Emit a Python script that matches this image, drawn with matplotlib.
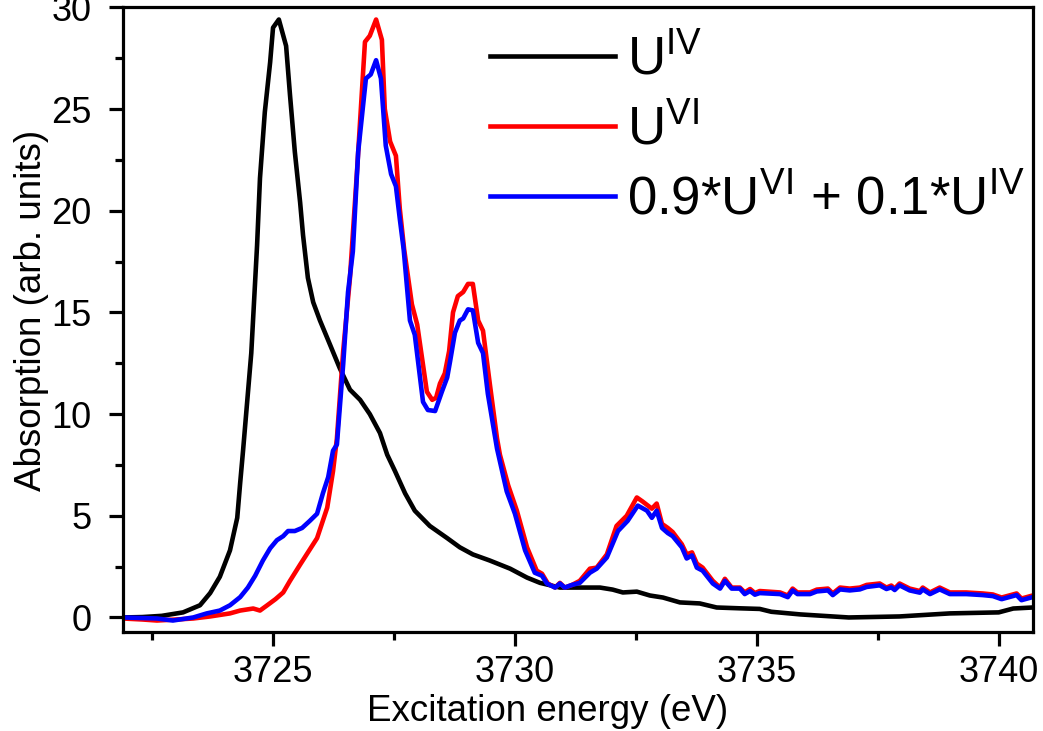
import matplotlib
matplotlib.use("Agg")
import matplotlib.pyplot as plt
from matplotlib.ticker import MultipleLocator

plt.rcParams['font.family'] = ['Liberation Sans', 'DejaVu Sans']
plt.rcParams['mathtext.fontset'] = 'custom'
plt.rcParams['mathtext.rm'] = 'Liberation Sans'
plt.rcParams['mathtext.it'] = 'Liberation Sans'
plt.rcParams['mathtext.default'] = 'rm'

# ---------------- data ----------------
energy_iv = [3721.9, 3722.3, 3722.7, 3723.14, 3723.49, 3723.70, 3723.90, 3724.11, 3724.26, 3724.32,
             3724.38, 3724.55, 3724.67, 3724.73, 3724.83, 3724.94, 3725.00, 3725.12, 3725.27, 3725.35,
             3725.45, 3725.56, 3725.62, 3725.72, 3725.83, 3725.97, 3726.18, 3726.38, 3726.59, 3726.80,
             3727.00, 3727.21, 3727.36, 3727.52, 3727.73, 3727.93, 3728.24, 3728.60, 3728.86, 3729.13,
             3729.48, 3729.90, 3730.25, 3730.52, 3730.93, 3731.34, 3731.76, 3732.02, 3732.23, 3732.52,
             3732.79, 3733.06, 3733.41, 3733.82, 3734.17, 3734.65, 3735.06, 3735.30, 3735.90, 3736.90,
             3737.95, 3738.99, 3740.00, 3740.30, 3740.70]
absorb_iv = [0.0, 0.02, 0.08, 0.25, 0.6, 1.2, 2.0, 3.3, 4.9, 6.6,
             8.2, 13.0, 18.3, 21.6, 24.85, 27.3, 29.0, 29.4, 28.1, 25.7,
             22.9, 20.4, 18.8, 16.7, 15.5, 14.6, 13.4, 12.25, 11.2, 10.7,
             10.0, 9.07, 8.0, 7.2, 6.1, 5.25, 4.5, 3.9, 3.45, 3.1,
             2.8, 2.4, 1.96, 1.7, 1.47, 1.47, 1.47, 1.37, 1.23, 1.27,
             1.08, 0.98, 0.74, 0.69, 0.49, 0.45, 0.42, 0.28, 0.15, 0.0,
             0.05, 0.2, 0.25, 0.44, 0.49]

energy_vi = [3721.9, 3722.3, 3722.6, 3723.0, 3723.35, 3723.7, 3724.11, 3724.32, 3724.59, 3724.73,
             3724.88, 3725.05, 3725.21, 3725.35, 3725.56, 3725.91, 3726.12, 3726.24, 3726.32, 3726.45,
             3726.59, 3726.74, 3726.90, 3727.00, 3727.13, 3727.25, 3727.31, 3727.42, 3727.54, 3727.62,
             3727.71, 3727.87, 3727.98, 3728.18, 3728.29, 3728.37, 3728.45, 3728.55, 3728.64, 3728.72,
             3728.82, 3728.93, 3729.03, 3729.13, 3729.24, 3729.34, 3729.48, 3729.63, 3729.69, 3729.86,
             3730.04, 3730.25, 3730.45, 3730.56, 3730.68, 3730.83, 3730.93, 3731.03, 3731.18, 3731.34,
             3731.55, 3731.69, 3731.90, 3732.10, 3732.31, 3732.52, 3732.64, 3732.83, 3732.93, 3733.04,
             3733.16, 3733.26, 3733.45, 3733.55, 3733.66, 3733.76, 3733.88, 3734.09, 3734.24, 3734.34,
             3734.48, 3734.65, 3734.75, 3734.86, 3734.96, 3735.06, 3735.48, 3735.64, 3735.74, 3735.84,
             3736.10, 3736.24, 3736.47, 3736.57, 3736.72, 3736.92, 3737.13, 3737.27, 3737.54, 3737.68,
             3737.78, 3737.85, 3737.95, 3738.16, 3738.37, 3738.43, 3738.58, 3738.78, 3738.99, 3739.33,
             3739.67, 3739.88, 3740.06, 3740.37, 3740.47, 3740.70]
absorb_vi = [-0.05, -0.1, -0.15, -0.1, -0.05, 0.05, 0.2, 0.34, 0.44, 0.34,
             0.6, 0.9, 1.23, 1.8, 2.6, 3.9, 5.4, 7.2, 8.8, 13.1,
             16.7, 22.1, 28.3, 28.6, 29.4, 28.4, 25.0, 23.4, 22.7, 20.1,
             18.1, 15.4, 14.4, 11.1, 10.7, 10.8, 11.5, 12.0, 13.1, 15.0,
             15.8, 16.0, 16.4, 16.4, 14.6, 14.1, 11.5, 8.8, 8.0, 6.5,
             5.25, 3.45, 2.3, 2.15, 1.67, 1.47, 1.7, 1.47, 1.6, 1.8,
             2.4, 2.45, 3.1, 4.5, 5.0, 5.9, 5.7, 5.35, 5.6, 4.6,
             4.4, 4.2, 3.6, 3.1, 3.2, 2.65, 2.45, 1.8, 1.47, 1.9,
             1.47, 1.47, 1.23, 1.4, 1.2, 1.3, 1.23, 1.08, 1.42, 1.23,
             1.23, 1.37, 1.42, 1.18, 1.47, 1.42, 1.47, 1.6, 1.67, 1.47,
             1.57, 1.42, 1.67, 1.42, 1.3, 1.47, 1.23, 1.47, 1.23, 1.23,
             1.18, 1.13, 0.98, 1.18, 0.93, 1.08]

energy_mix = [3721.9, 3722.6, 3722.93, 3723.35, 3723.63, 3723.90, 3724.11, 3724.32, 3724.48, 3724.63,
              3724.79, 3724.94, 3725.08, 3725.21, 3725.31, 3725.45, 3725.60, 3725.76, 3725.91, 3726.03,
              3726.14, 3726.24, 3726.32, 3726.45, 3726.55, 3726.65, 3726.76, 3726.92, 3727.02, 3727.13,
              3727.23, 3727.33, 3727.44, 3727.54, 3727.62, 3727.70, 3727.83, 3727.93, 3728.10, 3728.20,
              3728.35, 3728.49, 3728.60, 3728.66, 3728.76, 3728.86, 3728.93, 3729.03, 3729.13, 3729.24,
              3729.34, 3729.44, 3729.63, 3729.83, 3730.00, 3730.21, 3730.41, 3730.56, 3730.66, 3730.83,
              3730.93, 3731.03, 3731.18, 3731.34, 3731.55, 3731.69, 3731.90, 3732.13, 3732.33, 3732.54,
              3732.73, 3732.83, 3732.93, 3733.04, 3733.16, 3733.26, 3733.45, 3733.55, 3733.66, 3733.76,
              3733.88, 3734.09, 3734.24, 3734.34, 3734.48, 3734.65,
              3734.75, 3734.86, 3734.96, 3735.06, 3735.48, 3735.64, 3735.74, 3735.84,
              3736.10, 3736.24, 3736.47, 3736.57, 3736.72, 3736.92, 3737.13, 3737.27, 3737.54, 3737.68,
              3737.78, 3737.85, 3737.95, 3738.16, 3738.37, 3738.43, 3738.58, 3738.78, 3738.99, 3739.33,
              3739.67, 3739.88, 3740.06, 3740.37, 3740.47, 3740.70]
absorb_mix = [0.0, -0.05, -0.15, 0.0, 0.2, 0.34, 0.6, 1.0, 1.47, 2.05,
              2.8, 3.4, 3.8, 4.0, 4.25, 4.25, 4.4, 4.75, 5.1, 6.1,
              6.9, 8.2, 8.5, 12.45, 16.0, 18.0, 22.9, 26.5, 26.7, 27.4,
              26.5, 23.2, 21.8, 21.2, 19.6, 18.1, 14.6, 13.9, 10.6, 10.2,
              10.15, 11.1, 11.8, 12.6, 14.0, 14.6, 14.7, 15.15, 15.1, 13.5,
              13.0, 11.0, 8.3, 6.2, 5.1, 3.3, 2.2, 2.05, 1.67, 1.47,
              1.67, 1.47, 1.6, 1.7, 2.2, 2.4, 2.95, 4.25, 4.75, 5.5,
              5.25, 4.9, 5.25, 4.4, 4.15, 4.0, 3.45, 2.9, 3.05, 2.45,
              2.3, 1.67, 1.42, 1.8, 1.42, 1.42,
              1.15, 1.3, 1.12, 1.2, 1.15, 1.0, 1.33, 1.15,
              1.15, 1.28, 1.33, 1.1, 1.38, 1.33, 1.38, 1.5, 1.58, 1.4,
              1.48, 1.35, 1.58, 1.33, 1.22, 1.38, 1.15, 1.38, 1.15, 1.15,
              1.1, 1.05, 0.9, 1.1, 0.85, 1.0]

series_labels = [r'U$^{\mathregular{IV}}$', r'U$^{\mathregular{VI}}$',
                 r'0.9*U$^{\mathregular{VI}}$ + 0.1*U$^{\mathregular{IV}}$']
series_colors = ['#000000', '#ff0000', '#0000ff']
x_ticks = [3725, 3730, 3735, 3740]
y_ticks = [0, 5, 10, 15, 20, 25, 30]

# ---------------- figure ----------------
fig = plt.figure(figsize=(10.43, 7.31), dpi=100)
ax = fig.add_axes([0.118, 0.135, 0.872, 0.855])

lw = 3.3
ax.plot(energy_iv, absorb_iv, color=series_colors[0], lw=lw, label=series_labels[0], solid_joinstyle='round')
ax.plot(energy_vi, absorb_vi, color=series_colors[1], lw=lw, label=series_labels[1], solid_joinstyle='round')
ax.plot(energy_mix, absorb_mix, color=series_colors[2], lw=lw, label=series_labels[2], solid_joinstyle='round')

ax.set_xlim(3721.9, 3740.7)
ax.set_ylim(-0.73, 29.95)
ax.set_xticks(x_ticks)
ax.set_yticks(y_ticks)
ax.xaxis.set_minor_locator(MultipleLocator(2.5))
ax.yaxis.set_minor_locator(MultipleLocator(2.5))

for s in ax.spines.values():
    s.set_linewidth(2.3)
ax.tick_params(which='major', direction='out', length=10, width=2.3, labelsize=26, pad=6)
ax.tick_params(axis='y', which='major', pad=12.5)
ax.tick_params(which='minor', direction='out', length=5.5, width=2.3)

ax.set_xlabel('Excitation energy (eV)', fontsize=26.5, labelpad=3.5)
ax.set_ylabel('Absorption (arb. units)', fontsize=26.5, labelpad=2)
ax.xaxis.label.set_x(0.467)
ax.yaxis.label.set_y(0.515)

leg = ax.legend(loc='upper left', bbox_to_anchor=(0.4033, 0.9555), frameon=False,
                fontsize=38, handlelength=2.37, handletextpad=0.23, labelspacing=0.38,
                borderpad=0, borderaxespad=0)

fig.savefig('out.png', dpi=100)
